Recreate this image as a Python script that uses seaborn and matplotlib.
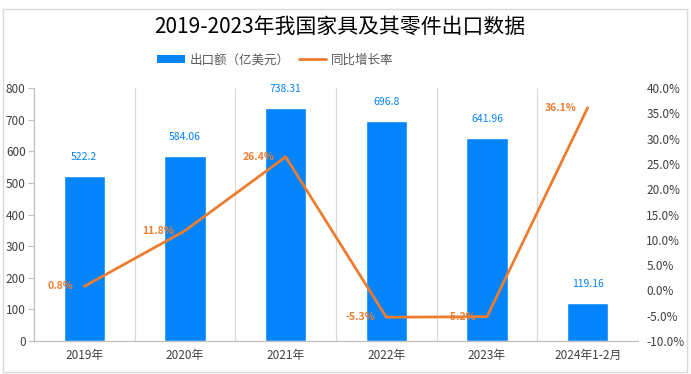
import matplotlib
matplotlib.use("Agg")
import matplotlib.pyplot as plt
import seaborn as sns
import pandas as pd
from matplotlib.lines import Line2D
from matplotlib.patches import Patch, Rectangle

categories = ["2019年", "2020年", "2021年", "2022年", "2023年", "2024年1-2月"]
export_values = [522.2, 584.06, 738.31, 696.8, 641.96, 119.16]
export_labels = ["522.2", "584.06", "738.31", "696.8", "641.96", "119.16"]
growth_rates = [0.8, 11.8, 26.4, -5.3, -5.2, 36.1]
growth_labels = ["0.8%", "11.8%", "26.4%", "-5.3%", "-5.2%", "36.1%"]
left_ticks = [0, 100, 200, 300, 400, 500, 600, 700, 800]
right_ticks = [-10, -5, 0, 5, 10, 15, 20, 25, 30, 35, 40]

sns.set_theme(style="white")
plt.rcParams['font.family'] = ['Noto Sans CJK SC', 'DejaVu Sans']

BLUE = "#0384FA"
ORANGE = "#ED7D31"
TXT = "#404040"

df = pd.DataFrame({"cat": categories, "val": export_values, "rate": growth_rates})

fig = plt.figure(figsize=(6.91, 3.74), dpi=100)
fig.patches.append(Rectangle((0.004, 0.005), 0.99, 0.972, transform=fig.transFigure,
                             fill=False, edgecolor="#D9D9D9", linewidth=1.0))
ax = fig.add_axes([34/691, 33/374, (638-34)/691, (341-88)/374])

sns.barplot(data=df, x="cat", y="val", color=BLUE, width=0.41, ax=ax, saturation=1)
ax.set_ylim(0, 800)
ax.set_xlim(-0.5, len(categories) - 0.5)
ax.set_yticks(left_ticks)
ax.set_yticklabels([str(t) for t in left_ticks], color=TXT, fontsize=8.5)
ax.set_xlabel("")
ax.set_ylabel("")
ax.set_xticks(range(len(categories)))
ax.set_xticklabels(categories, color=TXT, fontsize=8.5)
ax.tick_params(axis="x", length=0, pad=6)
ax.tick_params(axis="y", length=4, color="#BFBFBF", width=0.8, pad=2, left=True)

for sp in ["top", "right"]:
    ax.spines[sp].set_visible(False)
for sp in ["left", "bottom"]:
    ax.spines[sp].set_color("#BFBFBF")
    ax.spines[sp].set_linewidth(0.9)

# category boundary gridlines
for b in [i + 0.5 for i in range(len(categories))]:
    ax.axvline(b, color="#D9D9D9", linewidth=0.9, zorder=0)

for i, (v, lab) in enumerate(zip(export_values, export_labels)):
    ax.annotate(lab, (i, v), xytext=(0, 10), textcoords="offset points",
                ha="center", va="bottom", color=BLUE, fontsize=7.5)

ax2 = ax.twinx()
sns.lineplot(x=list(range(len(categories))), y=growth_rates, color=ORANGE,
             linewidth=2, ax=ax2)
ax2.set_ylim(-10, 40)
ax2.set_xlim(-0.5, len(categories) - 0.5)
ax2.set_yticks(right_ticks)
ax2.set_yticklabels([f"{t:.1f}%" for t in right_ticks], color=TXT, fontsize=8.5)
ax2.tick_params(axis="y", length=0, pad=6, right=True)
for sp in ["top", "left", "right", "bottom"]:
    ax2.spines[sp].set_visible(False)

for i, (r, lab) in enumerate(zip(growth_rates, growth_labels)):
    ax2.annotate(lab, (i, r), xytext=(-8, 0), textcoords="offset points",
                 ha="right", va="center", color=ORANGE, fontsize=7.5,
                 fontweight="bold")

fig.text(340/691, 1 - 27/374, "2019-2023年我国家具及其零件出口数据", ha="center", va="center",
         fontsize=15, color="#000000")

handles = [Patch(facecolor=BLUE, edgecolor="none"),
           Line2D([0], [0], color=ORANGE, linewidth=2)]
fig.legend(handles, ["出口额（亿美元）", "同比增长率"], loc="center",
           bbox_to_anchor=(275.5/691, 1 - 60/374), ncol=2, frameon=False, fontsize=9,
           labelcolor="#595959", handlelength=2.2, handleheight=0.65,
           columnspacing=0.7, handletextpad=0.4)

fig.savefig("out.png", dpi=100)
